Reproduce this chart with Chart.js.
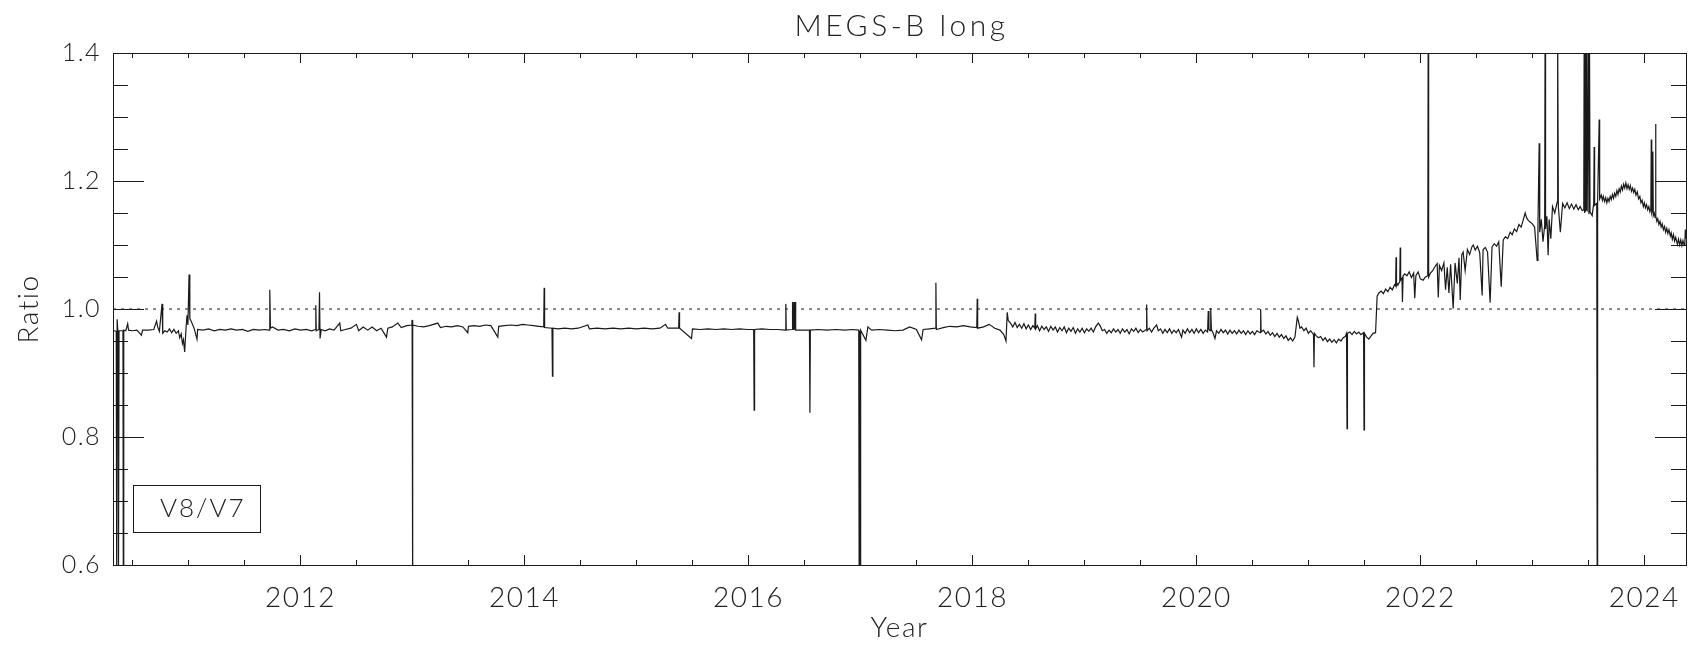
<!DOCTYPE html>
<html>
<head>
<meta charset="utf-8">
<title>MEGS-B long</title>
<script src="https://cdn.jsdelivr.net/npm/chart.js@4.4.1/dist/chart.umd.min.js"></script>
<style>
  html, body { margin: 0; padding: 0; background: #fff; }
  #wrap { width: 1700px; height: 653px; }
</style>
</head>
<body>
<div id="wrap"><canvas id="megs" width="1700" height="653"></canvas></div>
<script>
// V8/V7 ratio (decimal year, ratio)
const years = [
  2010.326, 2010.340, 2010.355, 2010.359, 2010.363, 2010.371, 2010.375, 2010.380, 2010.415, 2010.418,
  2010.422, 2010.440, 2010.457, 2010.465, 2010.50, 2010.54, 2010.58, 2010.59, 2010.64, 2010.69,
  2010.715, 2010.725, 2010.740, 2010.764, 2010.770, 2010.788, 2010.81, 2010.83, 2010.85, 2010.87,
  2010.89, 2010.91, 2010.922, 2010.935, 2010.946, 2010.955, 2010.966, 2010.978, 2010.987, 2010.995,
  2011.005, 2011.012, 2011.026, 2011.05, 2011.076, 2011.082, 2011.13, 2011.18, 2011.23, 2011.28,
  2011.33, 2011.38, 2011.43, 2011.48, 2011.53, 2011.58, 2011.63, 2011.68, 2011.722, 2011.726,
  2011.732, 2011.75, 2011.80, 2011.85, 2011.90, 2011.95, 2012.00, 2012.05, 2012.10, 2012.133,
  2012.137, 2012.141, 2012.165, 2012.170, 2012.175, 2012.185, 2012.22, 2012.26, 2012.30, 2012.351,
  2012.36, 2012.40, 2012.45, 2012.50, 2012.52, 2012.56, 2012.60, 2012.64, 2012.68, 2012.72,
  2012.768, 2012.78, 2012.82, 2012.869, 2012.90, 2012.95, 2012.994, 2012.997, 2013.000, 2013.004,
  2013.05, 2013.10, 2013.15, 2013.226, 2013.25, 2013.30, 2013.35, 2013.40, 2013.45, 2013.494,
  2013.50, 2013.55, 2013.60, 2013.65, 2013.70, 2013.762, 2013.77, 2013.82, 2013.88, 2013.93,
  2013.985, 2014.03, 2014.08, 2014.13, 2014.172, 2014.176, 2014.180, 2014.246, 2014.250, 2014.254,
  2014.30, 2014.36, 2014.42, 2014.48, 2014.566, 2014.58, 2014.65, 2014.72, 2014.79, 2014.86,
  2014.93, 2015.00, 2015.07, 2015.14, 2015.21, 2015.26, 2015.28, 2015.377, 2015.381, 2015.385,
  2015.492, 2015.50, 2015.57, 2015.64, 2015.71, 2015.78, 2015.85, 2015.92, 2015.99, 2016.047,
  2016.051, 2016.055, 2016.12, 2016.19, 2016.26, 2016.330, 2016.334, 2016.338, 2016.390, 2016.394,
  2016.400, 2016.406, 2016.412, 2016.417, 2016.422, 2016.48, 2016.545, 2016.549, 2016.553, 2016.62,
  2016.70, 2016.78, 2016.86, 2016.93, 2016.985, 2016.989, 2016.993, 2016.998, 2017.002, 2017.049,
  2017.067, 2017.10, 2017.17, 2017.24, 2017.31, 2017.38, 2017.44, 2017.50, 2017.546, 2017.56,
  2017.62, 2017.670, 2017.674, 2017.678, 2017.74, 2017.799, 2017.86, 2017.92, 2017.98, 2018.039,
  2018.043, 2018.047, 2018.10, 2018.150, 2018.20, 2018.246, 2018.28, 2018.300, 2018.311, 2018.32,
  2018.34, 2018.36, 2018.38, 2018.40, 2018.42, 2018.44, 2018.46, 2018.48, 2018.50, 2018.52,
  2018.54, 2018.557, 2018.561, 2018.565, 2018.58, 2018.60, 2018.62, 2018.64, 2018.66, 2018.68,
  2018.70, 2018.72, 2018.74, 2018.76, 2018.78, 2018.80, 2018.82, 2018.84, 2018.86, 2018.88,
  2018.90, 2018.92, 2018.94, 2018.96, 2018.98, 2019.00, 2019.02, 2019.04, 2019.06, 2019.08,
  2019.10, 2019.124, 2019.14, 2019.16, 2019.18, 2019.20, 2019.22, 2019.24, 2019.26, 2019.28,
  2019.30, 2019.32, 2019.34, 2019.36, 2019.38, 2019.40, 2019.42, 2019.44, 2019.46, 2019.48,
  2019.50, 2019.52, 2019.552, 2019.556, 2019.560, 2019.58, 2019.60, 2019.62, 2019.645, 2019.66,
  2019.68, 2019.70, 2019.72, 2019.74, 2019.76, 2019.78, 2019.80, 2019.82, 2019.84, 2019.868,
  2019.88, 2019.90, 2019.92, 2019.94, 2019.96, 2019.98, 2020.00, 2020.02, 2020.04, 2020.06,
  2020.08, 2020.10, 2020.106, 2020.112, 2020.122, 2020.128, 2020.134, 2020.150, 2020.166, 2020.18,
  2020.20, 2020.22, 2020.24, 2020.26, 2020.28, 2020.30, 2020.32, 2020.34, 2020.36, 2020.38,
  2020.40, 2020.42, 2020.44, 2020.46, 2020.48, 2020.50, 2020.52, 2020.54, 2020.570, 2020.574,
  2020.578, 2020.60, 2020.62, 2020.64, 2020.66, 2020.68, 2020.70, 2020.72, 2020.74, 2020.76,
  2020.78, 2020.80, 2020.82, 2020.84, 2020.86, 2020.88, 2020.901, 2020.91, 2020.925, 2020.94,
  2020.96, 2020.98, 2021.00, 2021.02, 2021.046, 2021.050, 2021.054, 2021.07, 2021.09, 2021.11,
  2021.13, 2021.15, 2021.17, 2021.19, 2021.21, 2021.23, 2021.25, 2021.27, 2021.29, 2021.31,
  2021.33, 2021.341, 2021.345, 2021.349, 2021.37, 2021.39, 2021.41, 2021.43, 2021.45, 2021.47,
  2021.493, 2021.497, 2021.501, 2021.52, 2021.54, 2021.56, 2021.578, 2021.60, 2021.614, 2021.63,
  2021.65, 2021.67, 2021.69, 2021.71, 2021.73, 2021.75, 2021.77, 2021.779, 2021.783, 2021.787,
  2021.792, 2021.800, 2021.816, 2021.820, 2021.824, 2021.836, 2021.840, 2021.846, 2021.86, 2021.88,
  2021.90, 2021.92, 2021.94, 2021.950, 2021.96, 2021.98, 2022.00, 2022.025, 2022.045, 2022.066,
  2022.070, 2022.074, 2022.09, 2022.11, 2022.13, 2022.15, 2022.16, 2022.17, 2022.19, 2022.21,
  2022.225, 2022.24, 2022.255, 2022.27, 2022.293, 2022.31, 2022.33, 2022.345, 2022.356, 2022.37,
  2022.382, 2022.40, 2022.42, 2022.44, 2022.46, 2022.472, 2022.49, 2022.51, 2022.53, 2022.552,
  2022.56, 2022.58, 2022.60, 2022.623, 2022.64, 2022.66, 2022.68, 2022.70, 2022.722, 2022.74,
  2022.76, 2022.78, 2022.802, 2022.82, 2022.84, 2022.86, 2022.88, 2022.90, 2022.92, 2022.936,
  2022.95, 2022.965, 2022.981, 2023.00, 2023.02, 2023.043, 2023.05, 2023.061, 2023.066, 2023.08,
  2023.095, 2023.110, 2023.114, 2023.118, 2023.130, 2023.141, 2023.15, 2023.165, 2023.18, 2023.20,
  2023.222, 2023.226, 2023.232, 2023.25, 2023.27, 2023.29, 2023.31, 2023.33, 2023.35, 2023.37,
  2023.39, 2023.41, 2023.427, 2023.445, 2023.459, 2023.463, 2023.467, 2023.472, 2023.476, 2023.480,
  2023.485, 2023.490, 2023.500, 2023.505, 2023.510, 2023.515, 2023.534, 2023.548, 2023.552, 2023.556,
  2023.575, 2023.579, 2023.583, 2023.597, 2023.601,
  2023.615, 2023.625, 2023.633, 2023.645, 2023.655, 2023.665, 2023.675, 2023.685, 2023.695, 2023.705,
  2023.715, 2023.725, 2023.735, 2023.745, 2023.755, 2023.765, 2023.775, 2023.785, 2023.795, 2023.805,
  2023.815, 2023.825, 2023.835, 2023.845, 2023.855, 2023.865, 2023.875, 2023.885, 2023.895, 2023.905,
  2023.915, 2023.925, 2023.937, 2023.948, 2023.96, 2023.97, 2023.98, 2023.991, 2024.00, 2024.01,
  2024.02, 2024.03, 2024.04, 2024.05, 2024.058, 2024.062, 2024.066, 2024.072, 2024.076, 2024.080,
  2024.088, 2024.096, 2024.100, 2024.104, 2024.112, 2024.12, 2024.13, 2024.14, 2024.15, 2024.16,
  2024.17, 2024.18, 2024.19, 2024.20, 2024.21, 2024.22, 2024.232, 2024.24, 2024.25, 2024.26,
  2024.27, 2024.28, 2024.295, 2024.305, 2024.315, 2024.325, 2024.335, 2024.345, 2024.355, 2024.362,
  2024.366, 2024.372
];
const ratio = [
  0.966, 0.966, 0.965, 0.58, 0.984, 0.960, 0.58, 0.966, 0.966, 0.58,
  0.967, 0.966, 0.977, 0.967, 0.966, 0.967, 0.959, 0.967, 0.967, 0.968,
  0.981, 0.972, 0.965, 1.008, 0.962, 0.966, 0.964, 0.969, 0.963, 0.968,
  0.962, 0.966, 0.955, 0.961, 0.946, 0.952, 0.933, 0.970, 0.990, 0.975,
  1.054, 0.985, 0.980, 0.970, 0.953, 0.968, 0.967, 0.969, 0.966, 0.968,
  0.967, 0.969, 0.967, 0.968, 0.965, 0.968, 0.967, 0.968, 0.967, 1.030,
  0.970, 0.972, 0.967, 0.968, 0.966, 0.969, 0.967, 0.968, 0.966, 0.968,
  1.006, 0.966, 0.968, 1.026, 0.954, 0.968, 0.966, 0.969, 0.967, 0.978,
  0.966, 0.968, 0.970, 0.976, 0.966, 0.972, 0.967, 0.972, 0.966, 0.970,
  0.956, 0.970, 0.972, 0.978, 0.971, 0.974, 0.975, 0.983, 0.55, 0.975,
  0.973, 0.972, 0.974, 0.978, 0.971, 0.973, 0.972, 0.974, 0.972, 0.963,
  0.973, 0.974, 0.973, 0.975, 0.974, 0.956, 0.973, 0.974, 0.975, 0.974,
  0.976, 0.975, 0.974, 0.973, 0.972, 1.033, 0.971, 0.970, 0.895, 0.970,
  0.969, 0.970, 0.969, 0.970, 0.975, 0.969, 0.970, 0.969, 0.970, 0.969,
  0.970, 0.969, 0.970, 0.969, 0.970, 0.976, 0.970, 0.970, 0.995, 0.970,
  0.954, 0.969, 0.968, 0.969, 0.968, 0.969, 0.968, 0.969, 0.968, 0.968,
  0.842, 0.968, 0.969, 0.968, 0.968, 0.967, 1.008, 0.967, 0.968, 1.011,
  0.968, 1.011, 0.968, 1.011, 0.967, 0.967, 0.967, 0.838, 0.967, 0.968,
  0.967, 0.968, 0.967, 0.968, 0.967, 0.55, 0.966, 0.55, 0.967, 0.951,
  0.972, 0.967, 0.968, 0.967, 0.966, 0.967, 0.972, 0.968, 0.952, 0.968,
  0.969, 0.970, 1.041, 0.968, 0.971, 0.973, 0.972, 0.974, 0.972, 0.971,
  1.016, 0.970, 0.972, 0.976, 0.970, 0.967, 0.960, 0.950, 0.995, 0.982,
  0.978, 0.972, 0.979, 0.971, 0.976, 0.970, 0.977, 0.969, 0.975, 0.968,
  0.974, 0.970, 0.993, 0.969, 0.974, 0.966, 0.973, 0.968, 0.972, 0.965,
  0.973, 0.967, 0.972, 0.964, 0.971, 0.966, 0.972, 0.963, 0.970, 0.965,
  0.971, 0.962, 0.969, 0.964, 0.970, 0.963, 0.969, 0.965, 0.970, 0.964,
  0.972, 0.978, 0.974, 0.966, 0.968, 0.962, 0.967, 0.963, 0.969, 0.964,
  0.968, 0.962, 0.969, 0.964, 0.968, 0.961, 0.969, 0.965, 0.970, 0.963,
  0.968, 0.964, 0.968, 1.007, 0.966, 0.970, 0.964, 0.970, 0.975, 0.966,
  0.969, 0.962, 0.968, 0.963, 0.969, 0.962, 0.967, 0.963, 0.968, 0.956,
  0.967, 0.962, 0.969, 0.963, 0.968, 0.962, 0.969, 0.963, 0.968, 0.962,
  0.967, 0.964, 0.997, 0.968, 0.966, 1.001, 0.968, 0.962, 0.954, 0.966,
  0.962, 0.968, 0.963, 0.967, 0.961, 0.967, 0.962, 0.966, 0.961, 0.967,
  0.962, 0.966, 0.960, 0.966, 0.961, 0.965, 0.960, 0.966, 0.963, 1.000,
  0.964, 0.967, 0.961, 0.965, 0.959, 0.963, 0.957, 0.962, 0.956, 0.960,
  0.954, 0.958, 0.951, 0.955, 0.950, 0.956, 0.987, 0.982, 0.970, 0.972,
  0.966, 0.970, 0.962, 0.966, 0.960, 0.909, 0.962, 0.958, 0.955, 0.957,
  0.951, 0.955, 0.949, 0.953, 0.948, 0.952, 0.947, 0.953, 0.950, 0.955,
  0.957, 0.962, 0.813, 0.962, 0.964, 0.960, 0.965, 0.961, 0.964, 0.960,
  0.963, 0.811, 0.962, 0.956, 0.953, 0.958, 0.962, 0.963, 1.020, 1.025,
  1.028, 1.024, 1.031, 1.027, 1.034, 1.030, 1.038, 1.036, 1.081, 1.037,
  1.040, 1.038, 1.042, 1.096, 1.045, 1.048, 1.011, 1.052, 1.055, 1.052,
  1.058, 1.049, 1.056, 1.017, 1.052, 1.058, 1.047, 1.045, 1.050, 1.052,
  1.45, 1.050, 1.056, 1.060, 1.066, 1.071, 1.018, 1.068, 1.060, 1.072,
  1.030, 1.065, 1.025, 1.070, 1.001, 1.072, 1.040, 1.080, 1.014, 1.085,
  1.089, 1.060, 1.093, 1.085, 1.097, 1.100, 1.092, 1.098, 1.088, 1.021,
  1.093, 1.096, 1.089, 1.010, 1.097, 1.102, 1.098, 1.105, 1.035, 1.108,
  1.113, 1.110, 1.120, 1.116, 1.125, 1.121, 1.132, 1.128, 1.140, 1.150,
  1.142, 1.138, 1.136, 1.133, 1.128, 1.076, 1.130, 1.259, 1.120, 1.140,
  1.105, 1.130, 1.45, 1.125, 1.145, 1.084, 1.140, 1.110, 1.160, 1.150,
  1.167, 1.45, 1.160, 1.120, 1.165, 1.158, 1.166, 1.157, 1.164, 1.156,
  1.163, 1.155, 1.160, 1.154, 1.155, 1.45, 1.150, 1.45, 1.152, 1.45,
  1.155, 1.154, 1.45, 1.148, 1.45, 1.152, 1.146, 1.165, 1.253, 1.162,
  1.165, 0.55, 1.170, 1.296, 1.172,
  1.178, 1.170, 1.176, 1.168, 1.174, 1.166, 1.173, 1.168, 1.176, 1.171,
  1.179, 1.173, 1.181, 1.176, 1.185, 1.179, 1.188, 1.183, 1.192, 1.186,
  1.195, 1.189, 1.197, 1.188, 1.194, 1.187, 1.193, 1.184, 1.189, 1.182,
  1.187, 1.178, 1.183, 1.172, 1.176, 1.166, 1.170, 1.160, 1.166, 1.158,
  1.163, 1.155, 1.160, 1.152, 1.156, 1.265, 1.150, 1.154, 1.246, 1.146,
  1.150, 1.143, 1.289, 1.145, 1.137, 1.141, 1.132, 1.137, 1.128, 1.133,
  1.124, 1.129, 1.120, 1.126, 1.118, 1.124, 1.114, 1.119, 1.109, 1.116,
  1.106, 1.112, 1.101, 1.109, 1.100, 1.108, 1.099, 1.107, 1.100, 1.104,
  1.124, 1.110
];
const yearTicks = [2012, 2014, 2016, 2018, 2020, 2022, 2024];
const ratioTicks = [0.6, 0.8, 1.0, 1.2, 1.4];
const yearRange = [2010.326, 2024.372];
const unity = [1.0, 1.0];
const legendText = 'V8/V7';

const ink = '#1a1a1a';
Chart.defaults.font.family = 'Lato';
Chart.defaults.font.weight = 300;
Chart.defaults.color = '#222';

// box, inward ticks, title and label box (IDL style)
const frame = {
  id: 'frame',
  beforeDraw(chart) {
    chart.ctx.letterSpacing = '1.5px';
  },
  afterDraw(chart) {
    const { ctx, chartArea: a, scales: { x, y } } = chart;
    ctx.save();
    ctx.strokeStyle = ink;
    ctx.lineWidth = 1;
    ctx.strokeRect(Math.round(a.left) + 0.5, Math.round(a.top) + 0.5,
      Math.round(a.right - a.left), Math.round(a.bottom - a.top));
    ctx.beginPath();
    for (let v = 2010.5; v <= yearRange[1]; v += 0.5) {
      const px = Math.round(x.getPixelForValue(v)) + 0.5;
      const len = v % 2 === 0 ? 10 : 5;
      ctx.moveTo(px, a.bottom); ctx.lineTo(px, a.bottom - len);
      ctx.moveTo(px, a.top); ctx.lineTo(px, a.top + len);
    }
    for (let k = 12; k <= 28; k++) {
      const py = Math.round(y.getPixelForValue(k * 0.05)) + 0.5;
      const len = k % 4 === 0 ? 31 : 15;
      ctx.moveTo(a.left, py); ctx.lineTo(a.left + len, py);
      ctx.moveTo(a.right, py); ctx.lineTo(a.right - len, py);
    }
    ctx.stroke();

    ctx.fillStyle = '#222';
    ctx.font = '300 30px Lato';
    ctx.letterSpacing = '3.5px';
    ctx.textAlign = 'center';
    ctx.textBaseline = 'middle';
    ctx.fillText('MEGS-B long', (a.left + a.right) / 2 + 2, 26);

    ctx.letterSpacing = '2px';
    ctx.strokeRect(Math.round(a.left) + 20.5, Math.round(a.bottom) - 79.5, 127, 47);
    ctx.font = '300 26px Lato';
    ctx.textAlign = 'left';
    ctx.fillText(legendText, a.left + 47, a.bottom - 56);
    ctx.restore();
  }
};

new Chart(document.getElementById('megs'), {
  type: 'line',
  data: {
    datasets: [
      {
        label: legendText,
        data: years.map((t, i) => ({ x: t, y: ratio[i] })),
        borderColor: ink,
        borderWidth: 1.2,
        pointRadius: 0,
        tension: 0,
        clip: 0
      },
      {
        label: 'unity',
        data: yearRange.map((t, i) => ({ x: t, y: unity[i] })),
        borderColor: ink,
        borderWidth: 1,
        borderDash: [3, 5],
        pointRadius: 0,
        clip: 0
      }
    ]
  },
  options: {
    responsive: false,
    animation: false,
    devicePixelRatio: 1,
    layout: { padding: { top: 53, right: 14, left: 0, bottom: 0 } },
    plugins: { legend: { display: false }, tooltip: { enabled: false } },
    scales: {
      x: {
        type: 'linear',
        min: yearRange[0],
        max: yearRange[1],
        afterFit: s => { s.height = 88; },
        afterBuildTicks: s => { s.ticks = yearTicks.map(v => ({ value: v })); },
        grid: { display: false, drawTicks: false },
        border: { display: false },
        ticks: { padding: 16, font: { size: 28 }, maxRotation: 0, autoSkip: false, callback: v => String(v) },
        title: { display: true, text: 'Year', font: { size: 28 }, padding: { top: 0, bottom: 8 } }
      },
      y: {
        min: 0.6,
        max: 1.4,
        afterFit: s => { s.width = 113; },
        afterBuildTicks: s => { s.ticks = ratioTicks.map(v => ({ value: v })); },
        grid: { display: false, drawTicks: false },
        border: { display: false },
        ticks: { padding: 12, font: { size: 25 }, callback: v => v.toFixed(1) },
        title: { display: true, text: 'Ratio', font: { size: 28 }, padding: { top: 12, bottom: 0 } }
      }
    }
  },
  plugins: [frame]
});
</script>
</body>
</html>
